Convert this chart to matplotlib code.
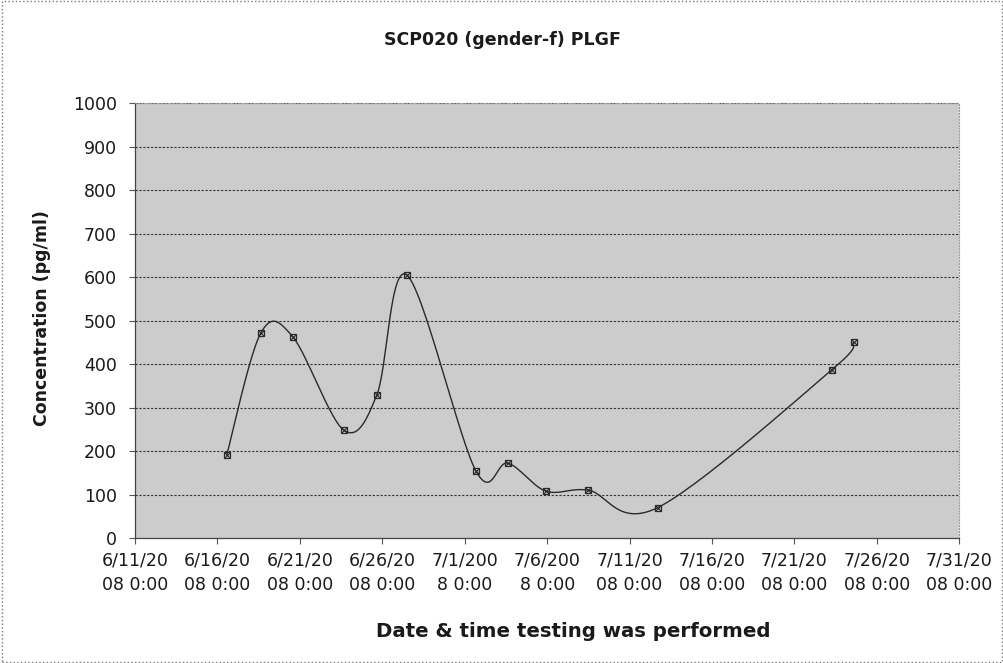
import matplotlib
matplotlib.use("Agg")
import matplotlib.pyplot as plt
import matplotlib.dates as mdates
import numpy as np
from datetime import datetime

# values
test_times = ["2008-06-16 13:30", "2008-06-18 15:00", "2008-06-20 13:30",
              "2008-06-23 16:00", "2008-06-25 16:00", "2008-06-27 11:30",
              "2008-07-01 16:00", "2008-07-03 15:00", "2008-07-05 22:00",
              "2008-07-08 12:00", "2008-07-12 17:00", "2008-07-23 06:00",
              "2008-07-24 14:00"]
plgf = [191, 471, 463, 248, 329, 605, 155, 172, 108, 110, 70, 386, 450]

x_start = datetime(2008, 6, 11)
x_end = datetime(2008, 7, 31)
tick_labels = ["6/11/20\n08 0:00", "6/16/20\n08 0:00", "6/21/20\n08 0:00",
               "6/26/20\n08 0:00", "7/1/200\n8 0:00", "7/6/200\n8 0:00",
               "7/11/20\n08 0:00", "7/16/20\n08 0:00", "7/21/20\n08 0:00",
               "7/26/20\n08 0:00", "7/31/20\n08 0:00"]

plt.rcParams['font.family'] = ['DejaVu Sans']

x = mdates.date2num([datetime.strptime(t, "%Y-%m-%d %H:%M") for t in test_times])
y = np.array(plgf, dtype=float)
x0, x1 = mdates.date2num(x_start), mdates.date2num(x_end)

fig = plt.figure(figsize=(10.04, 6.63), dpi=100)
ax = fig.add_axes([0.1345, 0.1885, 0.8210, 0.6560])

# stippled plot area of the old spreadsheet chart -> flat grey
ax.set_facecolor('#cccccc')

# Excel style smoothed line (Bezier through points, computed in pixel space)
W, H = 824.0, 435.0
px = (x - x0) / (x1 - x0) * W
py = y / 1000.0 * H
P = np.column_stack([px, py])
n = len(P)
curve = []
t = np.linspace(0, 1, 30)[:, None]
for i in range(n - 1):
    p0 = P[i - 1] if i > 0 else P[i]
    p1, p2 = P[i], P[i + 1]
    p3 = P[i + 2] if i + 2 < n else P[i + 1]
    c1 = p1 + (p2 - p0) / 6.0
    c2 = p2 - (p3 - p1) / 6.0
    seg = ((1 - t) ** 3) * p1 + 3 * ((1 - t) ** 2) * t * c1 + 3 * (1 - t) * t ** 2 * c2 + t ** 3 * p2
    curve.append(seg)
curve = np.vstack(curve)
cx = curve[:, 0] / W * (x1 - x0) + x0
cy = curve[:, 1] / H * 1000.0

for v in range(100, 1001, 100):
    ax.axhline(v, color='#333333', linewidth=0.8, linestyle=(0, (2, 1.5)), zorder=1)

ax.plot(cx, cy, color='#2a2a2a', linewidth=1.0, zorder=3)
ax.plot(x, y, linestyle='none', marker='s', markersize=5, markerfacecolor='none',
        markeredgecolor='#2a2a2a', markeredgewidth=0.9, zorder=4)
ax.plot(x, y, linestyle='none', marker='x', markersize=4, color='#2a2a2a',
        markeredgewidth=0.8, zorder=4)

ax.set_xlim(x0, x1)
ax.set_ylim(0, 1000)
ticks = [x0 + 5 * k for k in range(11)]
ax.set_xticks(ticks)
ax.set_xticklabels(tick_labels, fontsize=12.5, linespacing=1.45, color='#1a1a1a')
ax.set_yticks(range(0, 1001, 100))
ax.tick_params(axis='y', labelsize=12.5, labelcolor='#1a1a1a', length=4, width=0.8,
               color='#555555', pad=9)
ax.tick_params(axis='x', length=4, width=0.8, color='#555555', pad=6)

for side in ['top', 'right']:
    ax.spines[side].set_color('#9a9a9a')
    ax.spines[side].set_linestyle(':')
    ax.spines[side].set_linewidth(0.8)
for side in ['left', 'bottom']:
    ax.spines[side].set_color('#444444')
    ax.spines[side].set_linewidth(0.9)

fig.text(0.5, 0.94, "SCP020 (gender-f) PLGF", ha='center', va='center',
         fontsize=12.5, fontweight='bold', color='#1a1a1a')
fig.text(0.571, 0.047, "Date & time testing was performed", ha='center', va='center',
         fontsize=14.2, fontweight='bold', color='#1a1a1a')
fig.text(0.042, 0.52, "Concentration (pg/ml)", ha='center', va='center',
         rotation=90, fontsize=12.5, fontweight='bold', color='#1a1a1a')

# dotted chart border
border = plt.Rectangle((0.002, 0.002), 0.996, 0.996, transform=fig.transFigure,
                       fill=False, edgecolor='#777777', linestyle=':', linewidth=1.0)
fig.patches.append(border)

fig.savefig("out.png", dpi=100)
